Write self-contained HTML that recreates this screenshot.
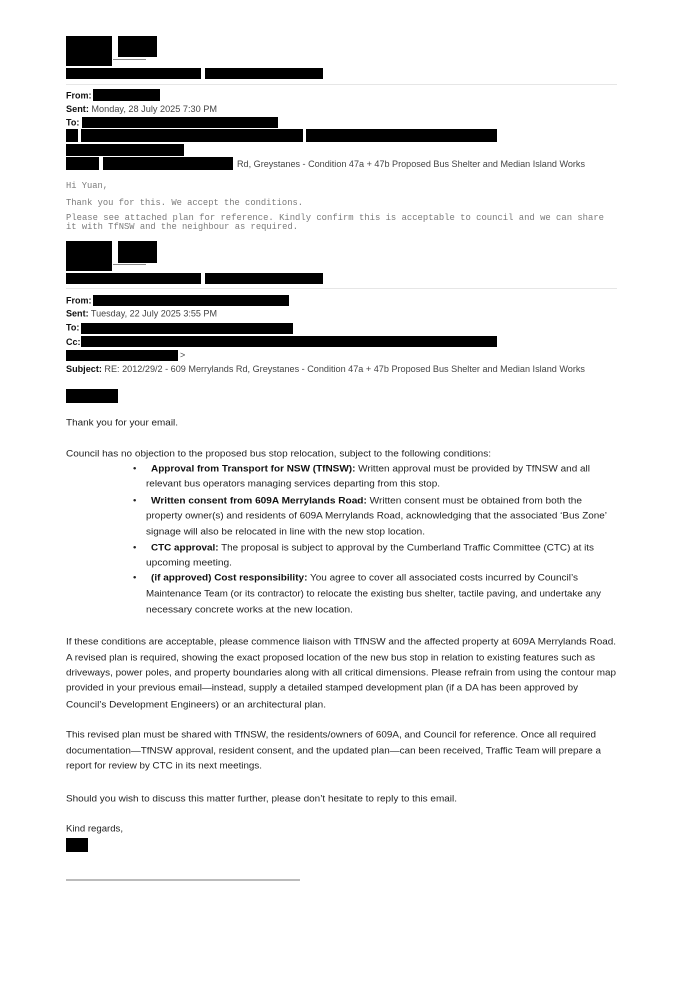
<!DOCTYPE html>
<html><head><meta charset="utf-8"><style>
html,body{margin:0;padding:0;background:#fff;}
svg{display:block;}
text{font-family:"Liberation Sans",sans-serif;font-size:9.6px;fill:#222;}
.m{font-family:"Liberation Mono",monospace;font-size:8.8px;fill:#7a7a7a;}
.h{font-size:9px;fill:#444;}
.b{font-weight:bold;fill:#111;}
</style></head><body>
<svg width="683" height="989" viewBox="0 0 683 989" xmlns="http://www.w3.org/2000/svg">
<rect width="683" height="989" fill="#fff"/>
<rect x="66" y="36" width="46" height="30" fill="#000"/>
<rect x="118" y="36" width="39" height="21" fill="#000"/>
<line x1="113" y1="59.5" x2="146" y2="59.5" stroke="#888" stroke-width="1"/>
<rect x="66" y="68" width="135" height="11" fill="#000"/>
<rect x="205" y="68" width="118" height="11" fill="#000"/>
<line x1="66" y1="84.5" x2="617" y2="84.5" stroke="#e6e6e6" stroke-width="1"/>
<text x="66" y="98.5" class="h b">From:</text>
<rect x="93" y="89" width="67" height="12" fill="#000"/>
<text x="66" y="112" class="h" textLength="151" lengthAdjust="spacingAndGlyphs"><tspan class="b">Sent:</tspan> Monday, 28 July 2025 7:30 PM</text>
<text x="66" y="125.5" class="h b">To:</text>
<rect x="82" y="117" width="196" height="11" fill="#000"/>
<rect x="66" y="129" width="12" height="13" fill="#000"/>
<rect x="81" y="129" width="222" height="13" fill="#000"/>
<rect x="306" y="129" width="191" height="13" fill="#000"/>
<rect x="66" y="144" width="118" height="12" fill="#000"/>
<rect x="66" y="157" width="33" height="13" fill="#000"/>
<rect x="103" y="157" width="130" height="13" fill="#000"/>
<text x="237" y="167" class="h" textLength="348" lengthAdjust="spacingAndGlyphs">Rd, Greystanes - Condition 47a + 47b Proposed Bus Shelter and Median Island Works</text>
<text x="66" y="188" class="m" textLength="42" lengthAdjust="spacingAndGlyphs">Hi Yuan,</text>
<text x="66" y="205" class="m" textLength="237" lengthAdjust="spacingAndGlyphs">Thank you for this. We accept the conditions.</text>
<text x="66" y="220" class="m" textLength="538" lengthAdjust="spacingAndGlyphs">Please see attached plan for reference. Kindly confirm this is acceptable to council and we can share</text>
<text x="66" y="229" class="m" textLength="232" lengthAdjust="spacingAndGlyphs">it with TfNSW and the neighbour as required.</text>
<rect x="66" y="241" width="46" height="30" fill="#000"/>
<rect x="118" y="241" width="39" height="22" fill="#000"/>
<line x1="113" y1="264.5" x2="146" y2="264.5" stroke="#888" stroke-width="1"/>
<rect x="66" y="273" width="135" height="11" fill="#000"/>
<rect x="205" y="273" width="118" height="11" fill="#000"/>
<line x1="66" y1="288.5" x2="617" y2="288.5" stroke="#e6e6e6" stroke-width="1"/>
<text x="66" y="303.5" class="h b">From:</text>
<rect x="93" y="295" width="196" height="11" fill="#000"/>
<text x="66" y="316.5" class="h" textLength="151" lengthAdjust="spacingAndGlyphs"><tspan class="b">Sent:</tspan> Tuesday, 22 July 2025 3:55 PM</text>
<text x="66" y="330.5" class="h b">To:</text>
<rect x="81" y="323" width="212" height="11" fill="#000"/>
<text x="66" y="345" class="h b">Cc:</text>
<rect x="81" y="336" width="416" height="11" fill="#000"/>
<rect x="66" y="350" width="112" height="11" fill="#000"/>
<text x="180" y="358" class="h">&gt;</text>
<text x="66" y="372" class="h" textLength="519" lengthAdjust="spacingAndGlyphs"><tspan class="b">Subject:</tspan> RE: 2012/29/2 - 609 Merrylands Rd, Greystanes - Condition 47a + 47b Proposed Bus Shelter and Median Island Works</text>
<rect x="66" y="389" width="52" height="14" fill="#000"/>
<text x="66" y="425.5" textLength="112" lengthAdjust="spacingAndGlyphs">Thank you for your email.</text>
<text x="66" y="456.5" textLength="425" lengthAdjust="spacingAndGlyphs">Council has no objection to the proposed bus stop relocation, subject to the following conditions:</text>
<g>
<text x="133" y="471.5">•</text>
<text x="151" y="471.5" textLength="439" lengthAdjust="spacingAndGlyphs"><tspan class="b">Approval from Transport for NSW (TfNSW):</tspan> Written approval must be provided by TfNSW and all</text>
<text x="146" y="486.5" textLength="294" lengthAdjust="spacingAndGlyphs">relevant bus operators managing services departing from this stop.</text>
<text x="133" y="503.5">•</text>
<text x="151" y="503.5" textLength="431" lengthAdjust="spacingAndGlyphs"><tspan class="b">Written consent from 609A Merrylands Road:</tspan> Written consent must be obtained from both the</text>
<text x="146" y="518.5" textLength="461" lengthAdjust="spacingAndGlyphs">property owner(s) and residents of 609A Merrylands Road, acknowledging that the associated ‘Bus Zone’</text>
<text x="146" y="534.5" textLength="279" lengthAdjust="spacingAndGlyphs">signage will also be relocated in line with the new stop location.</text>
<text x="133" y="550.5">•</text>
<text x="151" y="550.5" textLength="443" lengthAdjust="spacingAndGlyphs"><tspan class="b">CTC approval:</tspan> The proposal is subject to approval by the Cumberland Traffic Committee (CTC) at its</text>
<text x="146" y="565.5" textLength="86" lengthAdjust="spacingAndGlyphs">upcoming meeting.</text>
<text x="133" y="580.5">•</text>
<text x="151" y="580.5" textLength="427" lengthAdjust="spacingAndGlyphs"><tspan class="b">(if approved) Cost responsibility:</tspan> You agree to cover all associated costs incurred by Council’s</text>
<text x="146" y="596.5" textLength="455" lengthAdjust="spacingAndGlyphs">Maintenance Team (or its contractor) to relocate the existing bus shelter, tactile paving, and undertake any</text>
<text x="146" y="612.5" textLength="207" lengthAdjust="spacingAndGlyphs">necessary concrete works at the new location.</text>
</g>
<text x="66" y="644.5" textLength="550" lengthAdjust="spacingAndGlyphs">If these conditions are acceptable, please commence liaison with TfNSW and the affected property at 609A Merrylands Road.</text>
<text x="66" y="660.5" textLength="529" lengthAdjust="spacingAndGlyphs">A revised plan is required, showing the exact proposed location of the new bus stop in relation to existing features such as</text>
<text x="66" y="675.5" textLength="550" lengthAdjust="spacingAndGlyphs">driveways, power poles, and property boundaries along with all critical dimensions. Please refrain from using the contour map</text>
<text x="66" y="690.5" textLength="512" lengthAdjust="spacingAndGlyphs">provided in your previous email—instead, supply a detailed stamped development plan (if a DA has been approved by</text>
<text x="66" y="707.5" textLength="260" lengthAdjust="spacingAndGlyphs">Council’s Development Engineers) or an architectural plan.</text>
<text x="66" y="737.5" textLength="530" lengthAdjust="spacingAndGlyphs">This revised plan must be shared with TfNSW, the residents/owners of 609A, and Council for reference. Once all required</text>
<text x="66" y="753.5" textLength="535" lengthAdjust="spacingAndGlyphs">documentation—TfNSW approval, resident consent, and the updated plan—can been received, Traffic Team will prepare a</text>
<text x="66" y="768.5" textLength="196" lengthAdjust="spacingAndGlyphs">report for review by CTC in its next meetings.</text>
<text x="66" y="801.5" textLength="391" lengthAdjust="spacingAndGlyphs">Should you wish to discuss this matter further, please don’t hesitate to reply to this email.</text>
<text x="66" y="831.5" textLength="57" lengthAdjust="spacingAndGlyphs">Kind regards,</text>
<rect x="66" y="838" width="22" height="14" fill="#000"/>
<line x1="66" y1="880" x2="300" y2="880" stroke="#777" stroke-width="1"/>
</svg>
</body></html>
